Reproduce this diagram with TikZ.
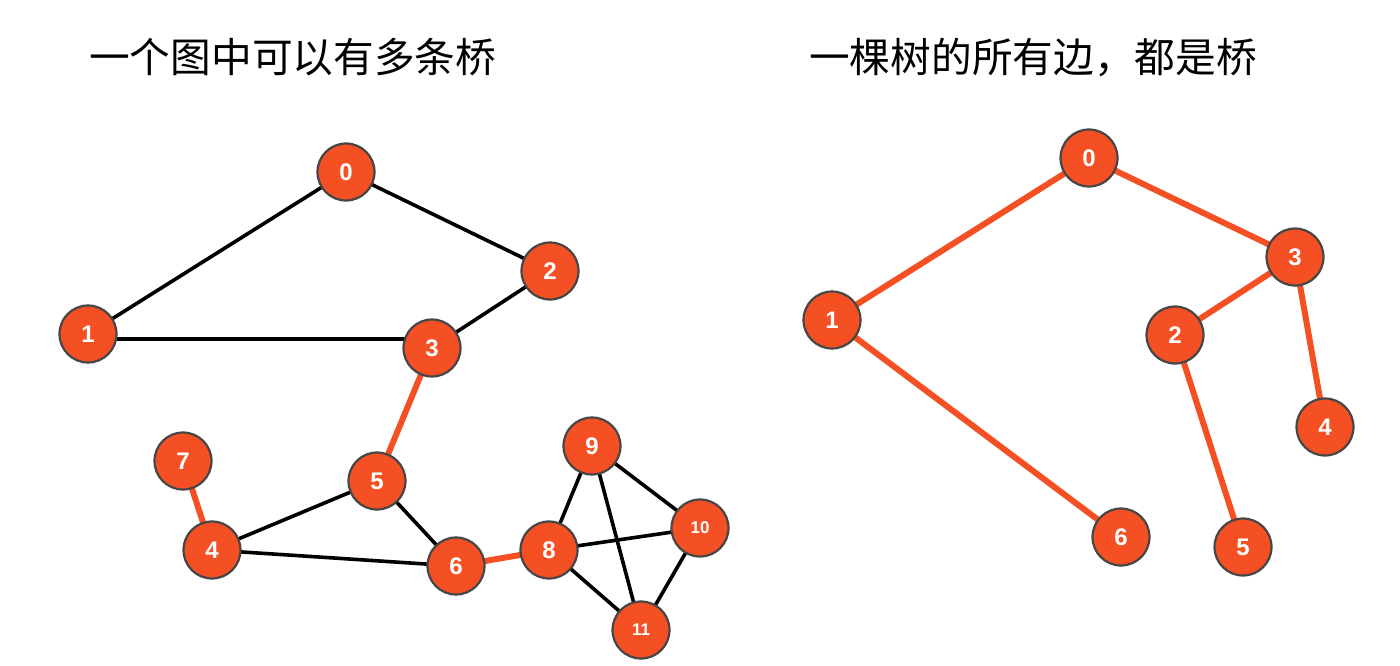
\documentclass[tikz,border=0pt]{standalone}
\usepackage{fontspec}
\setmainfont{Liberation Sans}
\newfontfamily\cjk{Noto Sans CJK SC}
\usetikzlibrary{backgrounds,calc}
\definecolor{nodeor}{RGB}{245,80,35}
\definecolor{edgeor}{RGB}{245,80,35}
\definecolor{rimgray}{RGB}{70,70,70}
\tikzset{
  vtx/.style={circle, fill=nodeor, draw=rimgray, line width=2.2pt, minimum size=57pt, inner sep=0pt, text=white, font=\fontsize{24}{24}\selectfont\bfseries},
  vtxs/.style={vtx, font=\fontsize{17}{17}\selectfont\bfseries},
  blk/.style={line width=3.6pt, black},
  brg/.style={line width=6pt, edgeor},
  ttl/.style={font=\cjk\fontsize{40.7}{41}\selectfont, anchor=west, inner sep=0pt}
}
\begin{document}
\begin{tikzpicture}[x=1pt,y=-1pt]
\useasboundingbox (0,0) rectangle (1400,665);
\node[ttl] (t1) at (89,57) {一个图中可以有多条桥};
\node[ttl] (t2) at (809,57) {一棵树的所有边，都是桥};
% left graph
\node[vtx] (a0) at (346,172) {0};
\node[vtx] (a1) at (88,334) {1};
\node[vtx] (a2) at (550,271) {2};
\node[vtx] (a3) at (432,348) {3};
\node[vtx] (a4) at (212,550) {4};
\node[vtx] (a5) at (377,481) {5};
\node[vtx] (a6) at (456,566) {6};
\node[vtx] (a7) at (183,461) {7};
\node[vtx] (a8) at (549,550) {8};
\node[vtx] (a9) at (592,446) {9};
\node[vtxs] (a10) at (700,528) {10};
\node[vtxs] (a11) at (641,630) {11};
% right graph
\node[vtx] (b0) at (1089,158) {0};
\node[vtx] (b1) at (832,320) {1};
\node[vtx] (b2) at (1175,335) {2};
\node[vtx] (b3) at (1295,257) {3};
\node[vtx] (b4) at (1325,427) {4};
\node[vtx] (b5) at (1243,547) {5};
\node[vtx] (b6) at (1121,537) {6};
\begin{scope}[on background layer]
\fill[white] (0,0) rectangle (1400,665);
\draw[blk] (a0.center) -- (a1.center);
\draw[blk] (a0.center) -- (a2.center);
\draw[blk] ($(a1.center)+(0,5)$) -- ($(a3.center)+(0,-9)$);
\draw[blk] (a2.center) -- (a3.center);
\draw[brg] (a3.center) -- (a5.center);
\draw[brg] (a7.center) -- (a4.center);
\draw[blk] (a4.center) -- (a5.center);
\draw[blk] (a4.center) -- (a6.center);
\draw[blk] (a5.center) -- (a6.center);
\draw[brg] (a6.center) -- (a8.center);
\draw[blk] (a8.center) -- (a9.center);
\draw[blk] (a8.center) -- (a10.center);
\draw[blk] (a8.center) -- (a11.center);
\draw[blk] (a9.center) -- (a10.center);
\draw[blk] (a9.center) -- (a11.center);
\draw[blk] (a10.center) -- (a11.center);
\draw[brg] (b0.center) -- (b1.center);
\draw[brg] (b0.center) -- (b3.center);
\draw[brg] (b1.center) -- (b6.center);
\draw[brg] (b3.center) -- (b2.center);
\draw[brg] (b3.center) -- (b4.center);
\draw[brg] (b2.center) -- (b5.center);
\end{scope}
\end{tikzpicture}
\end{document}
